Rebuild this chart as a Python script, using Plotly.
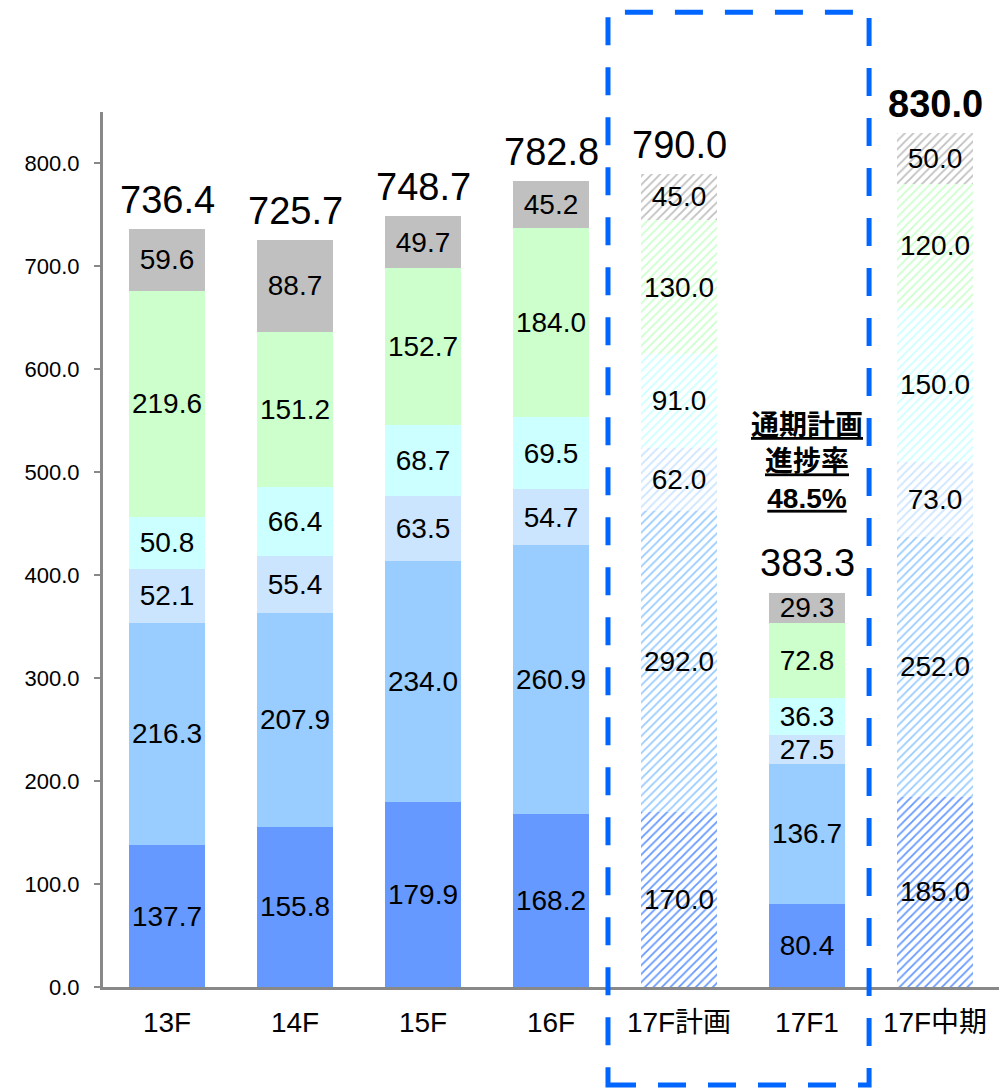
import plotly.graph_objects as go

categories = ["13F", "14F", "15F", "16F", "17F計画", "17F1", "17F中期"]
planned = [False, False, False, False, True, False, True]

seg1 = [137.7, 155.8, 179.9, 168.2, 170.0, 80.4, 185.0]
seg2 = [216.3, 207.9, 234.0, 260.9, 292.0, 136.7, 252.0]
seg3 = [52.1, 55.4, 63.5, 54.7, 62.0, 27.5, 73.0]
seg4 = [50.8, 66.4, 68.7, 69.5, 91.0, 36.3, 150.0]
seg5 = [219.6, 151.2, 152.7, 184.0, 130.0, 72.8, 120.0]
seg6 = [59.6, 88.7, 49.7, 45.2, 45.0, 29.3, 50.0]
totals = [736.4, 725.7, 748.7, 782.8, 790.0, 383.3, 830.0]

colors = ["#6699FF", "#99CCFF", "#CCE5FF", "#CCFFFF", "#CCFFCC", "#C0C0C0"]
series = [seg1, seg2, seg3, seg4, seg5, seg6]

FONT = "Liberation Sans, Arial, Noto Sans CJK JP, sans-serif"

fig = go.Figure()
for vals, color in zip(series, colors):
    fig.add_bar(
        x=categories,
        y=vals,
        marker=dict(
            color=color,
            line=dict(width=0),
            pattern=dict(
                shape=["/" if p else "" for p in planned],
                fgcolor=[color] * len(planned),
                bgcolor=["white"] * len(planned),
                size=6,
                solidity=0.3,
                fillmode="replace",
            ),
        ),
        text=[f"{v:.1f}" for v in vals],
        textposition="inside",
        insidetextanchor="middle",
        textangle=0,
        constraintext="none",
        textfont=dict(size=28, color="black", family=FONT),
        hoverinfo="skip",
    )

for c, t in zip(categories, totals):
    txt = f"{t:.1f}"
    if c == "17F中期":
        txt = f"<b>{txt}</b>"
    fig.add_annotation(
        x=c, y=t, text=txt, showarrow=False, yanchor="bottom", yshift=6,
        font=dict(size=38, color="black", family=FONT),
    )

fig.add_annotation(
    x="17F1", y=510,
    text="<b><u>通期計画</u></b><br><b><u>進捗率</u></b><br><b><u>48.5%</u></b>",
    showarrow=False, yanchor="middle", xanchor="center", align="center",
    font=dict(size=28, color="black", family="Liberation Sans, Noto Sans CJK JP, sans-serif"),
)

fig.add_shape(
    type="rect", xref="paper", yref="paper",
    x0=0.5636, x1=0.855, y0=-0.112, y1=1.114,
    line=dict(color="#0066FF", width=5, dash="28px,22px"),
    fillcolor="rgba(0,0,0,0)", layer="above",
)

fig.update_layout(
    width=1007, height=1088,
    margin=dict(l=95, r=16, t=104, b=109),
    barmode="stack", bargap=0.406,
    plot_bgcolor="white", paper_bgcolor="white",
    showlegend=False,
    font=dict(family=FONT, color="black"),
    xaxis=dict(
        showline=True, linecolor="#888888", linewidth=3,
        ticks="", showgrid=False, zeroline=False,
        tickfont=dict(size=28, color="black", family="Liberation Sans, Noto Sans CJK JP, sans-serif"),
        ticklabelstandoff=8,
    ),
    yaxis=dict(
        range=[0, 850], dtick=100, tick0=0, tickformat=".1f",
        showline=True, linecolor="#888888", linewidth=3,
        ticks="outside", ticklen=6, tickwidth=2, tickcolor="#888888",
        showgrid=False, zeroline=False,
        tickfont=dict(size=22, color="black"),
        ticklabelstandoff=10,
    ),
)

fig.write_html("out.html")
